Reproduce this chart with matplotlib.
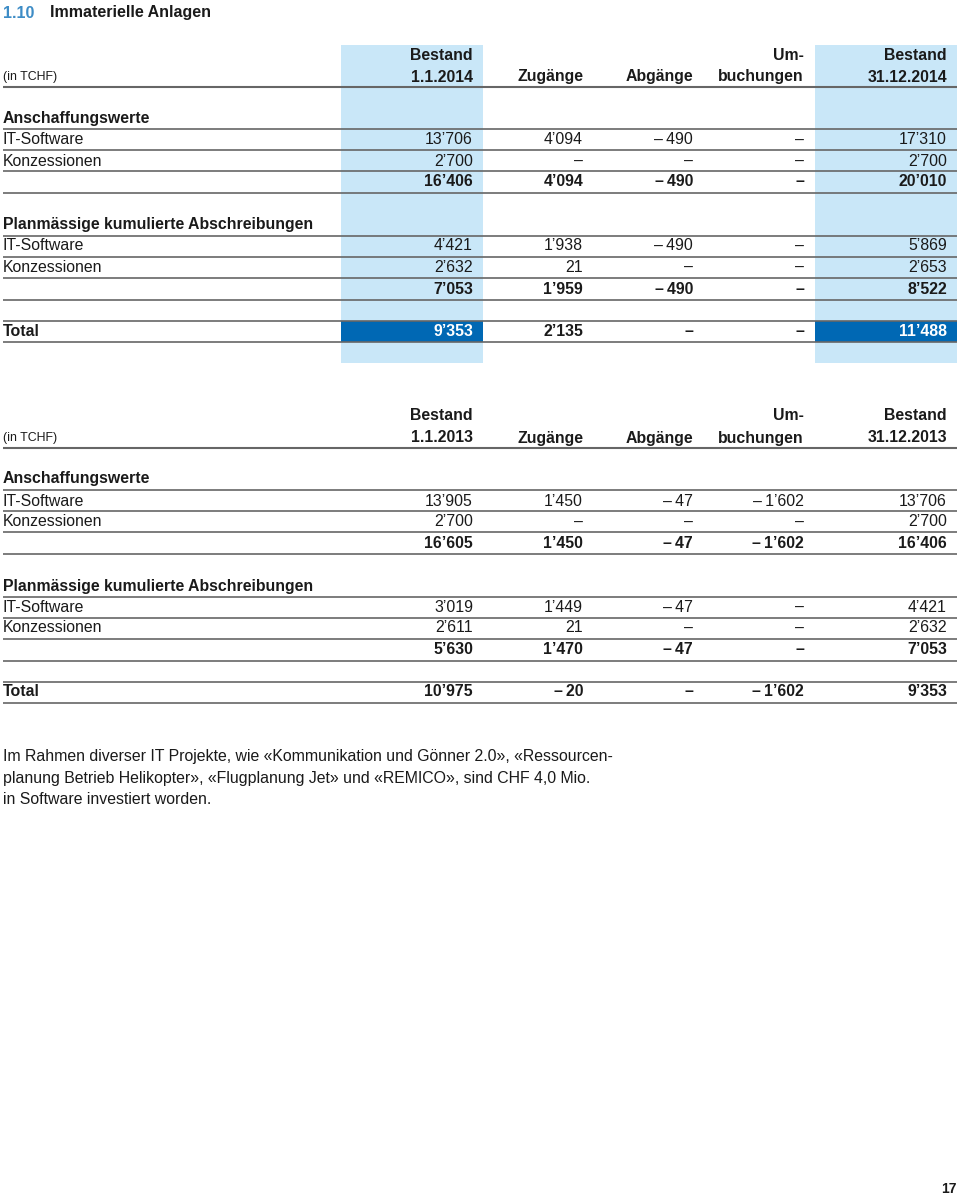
import matplotlib
matplotlib.use("Agg")
import matplotlib.pyplot as plt
from matplotlib.patches import Rectangle

plt.rcParams['font.family'] = ['Liberation Sans', 'DejaVu Sans']

# ---------------- data ----------------
title_num = "1.10"
title_text = "Immaterielle Anlagen"
unit_label = "(in TCHF)"
col_head_top_2014 = ["Bestand", "", "", "Um-", "Bestand"]
col_head_bot_2014 = ["1.1.2014", "Zugänge", "Abgänge", "buchungen", "31.12.2014"]
col_head_top_2013 = ["Bestand", "", "", "Um-", "Bestand"]
col_head_bot_2013 = ["1.1.2013", "Zugänge", "Abgänge", "buchungen", "31.12.2013"]

sec1 = "Anschaffungswerte"
sec2 = "Planmässige kumulierte Abschreibungen"
item_labels = ["IT-Software", "Konzessionen"]
total_label = "Total"

acq_it_2014 = [13706, 4094, -490, 0, 17310]
acq_kz_2014 = [2700, 0, 0, 0, 2700]
acq_sum_2014 = [16406, 4094, -490, 0, 20010]
dep_it_2014 = [4421, 1938, -490, 0, 5869]
dep_kz_2014 = [2632, 21, 0, 0, 2653]
dep_sum_2014 = [7053, 1959, -490, 0, 8522]
total_2014 = [9353, 2135, 0, 0, 11488]

acq_it_2013 = [13905, 1450, -47, -1602, 13706]
acq_kz_2013 = [2700, 0, 0, 0, 2700]
acq_sum_2013 = [16605, 1450, -47, -1602, 16406]
dep_it_2013 = [3019, 1449, -47, 0, 4421]
dep_kz_2013 = [2611, 21, 0, 0, 2632]
dep_sum_2013 = [5630, 1470, -47, 0, 7053]
total_2013 = [10975, -20, 0, -1602, 9353]

footnote = ["Im Rahmen diverser IT Projekte, wie «Kommunikation und Gönner 2.0», «Ressourcen-",
            "planung Betrieb Helikopter», «Flugplanung Jet» und «REMICO», sind CHF 4,0 Mio.",
            "in Software investiert worden."]
page_no = "17"

# ---------------- style ----------------
LIGHT = "#c9e7f8"
DARK = "#0068b4"
TITLE_BLUE = "#3d8cc6"
LINE = "#666666"
TXT = "#1a1a1a"
FS = 11.4

col_right = [473, 583, 693, 804, 947]
hl_cols = [(341, 483), (815, 957)]
X0, X1 = 3, 957


def fmt(v):
    if v == 0:
        return "–"
    s = f"{abs(v):,}".replace(",", "\u2019")
    return ("–\u2009" + s) if v < 0 else s


fig = plt.figure(figsize=(9.6, 11.94), dpi=100)
ax = fig.add_axes([0, 0, 1, 1])
ax.set_xlim(0, 960)
ax.set_ylim(1194, 0)
ax.axis("off")


def hline(y, lw=1.2):
    ax.plot([X0, X1], [y, y], color=LINE, lw=lw, solid_capstyle="butt", zorder=3)


def row(y, label, vals, bold=False, white_cols=()):
    w = "bold" if bold else "normal"
    if label:
        ax.text(X0, y, label, fontsize=FS, fontweight=w, color=TXT, va="center", ha="left", zorder=4)
    if vals is not None:
        for i, v in enumerate(vals):
            c = "white" if i in white_cols else TXT
            ax.text(col_right[i], y, fmt(v), fontsize=FS, fontweight=w, color=c,
                    va="center", ha="right", zorder=4)


# title
ax.text(X0, 13, title_num, fontsize=11.5, fontweight="bold", color=TITLE_BLUE, va="center", ha="left")
ax.text(50, 13, title_text, fontsize=11.5, fontweight="bold", color=TXT, va="center", ha="left")


def table(y0, tops, bots, acq, dep, tot, highlight):
    if highlight:
        for (a, b) in hl_cols:
            ax.add_patch(Rectangle((a, y0 - 10), b - a, 363 - (y0 - 10), color=LIGHT, lw=0, zorder=1))
            ax.add_patch(Rectangle((a, y0 + 266), b - a, 21, color=DARK, lw=0, zorder=2))
    yb = y0 + 22
    ax.text(X0, yb, unit_label, fontsize=8.9, color=TXT, va="center", ha="left")
    for i in range(5):
        if tops[i]:
            ax.text(col_right[i], y0, tops[i], fontsize=FS, fontweight="bold", color=TXT, va="center", ha="right")
        ax.text(col_right[i], yb, bots[i], fontsize=FS, fontweight="bold", color=TXT, va="center", ha="right")
    hline(y0 + 32, 1.5)
    # acquisitions
    y = y0 + 63
    ax.text(X0, y, sec1, fontsize=FS, fontweight="bold", color=TXT, va="center", ha="left")
    hline(y + 11)
    row(y + 22, item_labels[0], acq[0])
    hline(y + 32)
    row(y + 43, item_labels[1], acq[1])
    hline(y + 53)
    row(y + 64, None, acq[2], bold=True)
    hline(y + 75)
    # depreciation
    y = y0 + 170
    ax.text(X0, y, sec2, fontsize=FS, fontweight="bold", color=TXT, va="center", ha="left")
    hline(y + 11)
    row(y + 21, item_labels[0], dep[0])
    hline(y + 32)
    row(y + 42, item_labels[1], dep[1])
    hline(y + 53)
    row(y + 64, None, dep[2], bold=True)
    hline(y + 75)
    # total
    yt = y0 + 276
    hline(yt - 10)
    row(yt, total_label, tot, bold=True, white_cols=(0, 4) if highlight else ())
    hline(yt + 11)


table(55, col_head_top_2014, col_head_bot_2014,
      [acq_it_2014, acq_kz_2014, acq_sum_2014],
      [dep_it_2014, dep_kz_2014, dep_sum_2014], total_2014, True)
table(416, col_head_top_2013, col_head_bot_2013,
      [acq_it_2013, acq_kz_2013, acq_sum_2013],
      [dep_it_2013, dep_kz_2013, dep_sum_2013], total_2013, False)

for i, line in enumerate(footnote):
    ax.text(X0, 757 + 21 * i, line, fontsize=11.45, color=TXT, va="center", ha="left")

ax.text(957, 1189, page_no, fontsize=10, fontweight="bold", color=TXT, va="center", ha="right")

fig.savefig("out.png", dpi=100)
